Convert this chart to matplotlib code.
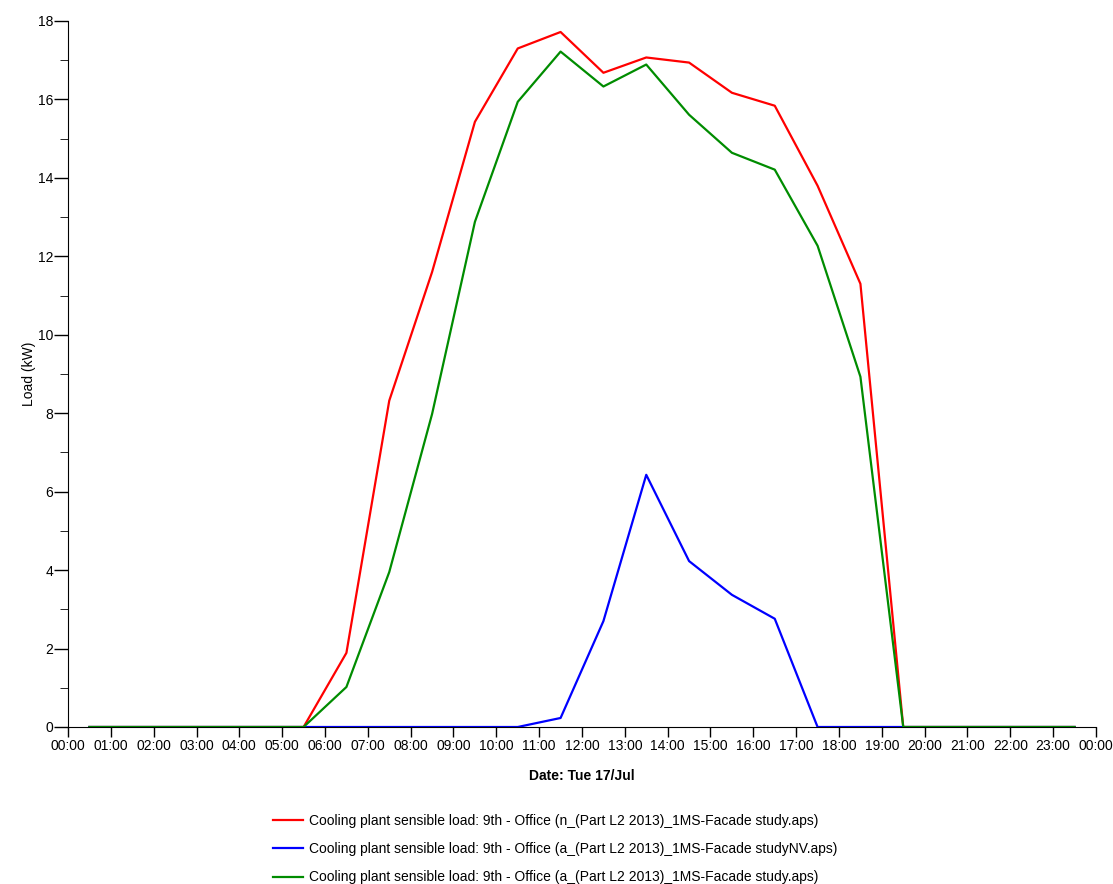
import numpy as np
import matplotlib.pyplot as plt
from matplotlib.ticker import MultipleLocator

plt.rcParams['font.family'] = ['Liberation Sans', 'DejaVu Sans']

# hourly values, stamped at half past each hour
hours = np.arange(24) + 0.5
red_load = [0, 0, 0, 0, 0, 0, 1.89, 8.32, 11.6, 15.43, 17.3, 17.72, 16.68, 17.07,
            16.94, 16.17, 15.84, 13.8, 11.3, 0, 0, 0, 0, 0]
blue_load = [0, 0, 0, 0, 0, 0, 0, 0, 0, 0, 0, 0.23, 2.7, 6.43,
             4.23, 3.37, 2.76, 0, 0, 0, 0, 0, 0, 0]
green_load = [0, 0, 0, 0, 0, 0, 1.02, 3.95, 7.98, 12.88, 15.94, 17.22, 16.33, 16.89,
              15.61, 14.64, 14.21, 12.27, 8.93, 0, 0, 0, 0, 0]
labels = [
    'Cooling plant sensible load: 9th - Office (n_(Part L2 2013)_1MS-Facade study.aps)',
    'Cooling plant sensible load: 9th - Office (a_(Part L2 2013)_1MS-Facade studyNV.aps)',
    'Cooling plant sensible load: 9th - Office (a_(Part L2 2013)_1MS-Facade study.aps)',
]
tick_labels = [f'{h % 24:02d}:00' for h in range(25)]

fig = plt.figure(figsize=(11.13, 8.84), dpi=100)
ax = fig.add_axes([68 / 1113, 157 / 884, 1028 / 1113, 706 / 884])

ax.plot(hours, red_load, color='#ff0000', lw=1.6, label=labels[0])
ax.plot(hours, blue_load, color='#0000ff', lw=1.6, label=labels[1])
ax.plot(hours, green_load, color='#008c00', lw=1.6, label=labels[2])

ax.set_xlim(0, 24)
ax.set_ylim(0, 18)
ax.set_xticks(range(25))
ax.set_xticklabels(tick_labels)
ax.yaxis.set_major_locator(MultipleLocator(2))
ax.yaxis.set_minor_locator(MultipleLocator(1))
ax.tick_params(axis='both', labelsize=10, width=1, color='black')
ax.tick_params(axis='y', which='major', length=10, pad=0.7)
ax.tick_params(axis='y', which='minor', length=6)
ax.tick_params(axis='x', length=7, pad=2)

for side in ('top', 'right'):
    ax.spines[side].set_visible(False)

ax.set_ylabel('Load (kW)', fontsize=10, labelpad=1.5)
ax.set_xlabel('Date: Tue 17/Jul', fontsize=10, fontweight='bold', labelpad=11)

fig.legend(loc='upper center', bbox_to_anchor=(555 / 1113, 1 - 801 / 884),
           frameon=False, fontsize=10, handlelength=2.2, handletextpad=0.4,
           labelspacing=1.04)

fig.savefig('out.png', dpi=100)
